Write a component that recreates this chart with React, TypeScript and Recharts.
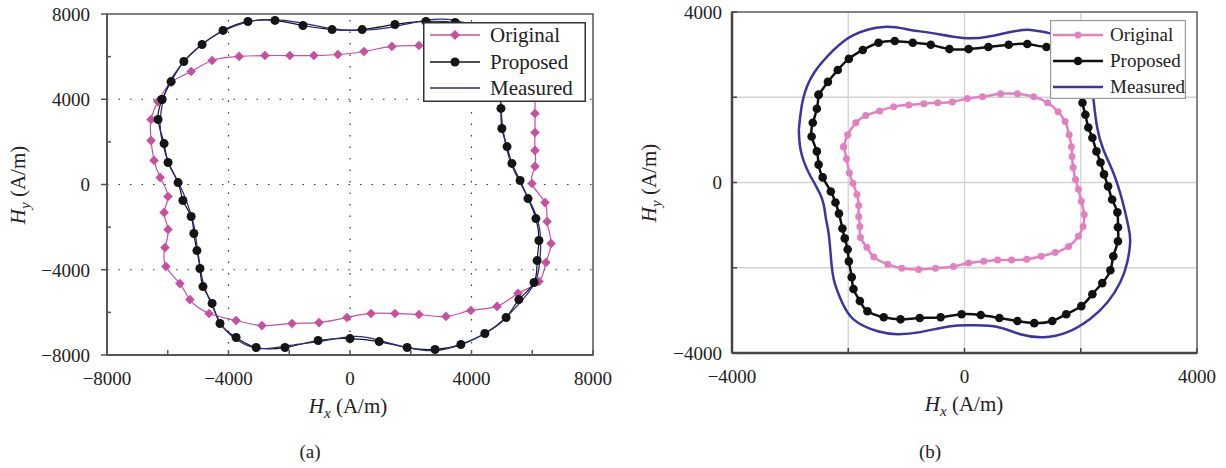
import React from 'react';
import { LineChart, Line, XAxis, YAxis, CartesianGrid, ReferenceArea, ReferenceLine, Legend, Label } from 'recharts';

const FONT = '"Liberation Serif", "DejaVu Serif", serif';

// ---------- Panel (a) data: [Hx, Hy] in A/m ----------
const aTicks = [-8000, -6000, -4000, -2000, 0, 2000, 4000, 6000, 8000];
const aGridValues = [-4000, 0, 4000];

const aOriginal: number[][] = [
  [-6320, 3890], [-5890, 4790], [-5230, 5300], [-4540, 5820], [-3650, 6010], [-2800, 6050],
  [-1980, 6050], [-1190, 6050], [-400, 6100], [460, 6240], [1380, 6480], [2270, 6520],
  [3290, 6570], [4280, 6570], [5270, 6430], [5860, 5820], [6060, 4880], [6090, 4080],
  [6090, 3330], [6090, 2440], [6090, 1600], [6090, 850], [5990, 50], [6420, -850],
  [6490, -1740], [6620, -2770], [6450, -3660], [6220, -4550], [5530, -5110], [4840, -5720],
  [3980, -5910], [3160, -6190], [2270, -6100], [1480, -6050], [690, -6050], [-100, -6240],
  [-1020, -6480], [-1910, -6520], [-2900, -6620], [-3750, -6380], [-4640, -6050], [-5270, -5400],
  [-5600, -4650], [-6060, -3850], [-6090, -2960], [-5990, -2110], [-6120, -1310], [-5990, -560],
  [-6250, 330], [-6450, 1130], [-6550, 2060], [-6550, 3050],
];

const aProposed: number[][] = [
  [-6190, 3990], [-5890, 4830], [-5470, 5770], [-4870, 6570], [-4180, 7230], [-3360, 7650],
  [-2470, 7700], [-1550, 7460], [-590, 7270], [400, 7270], [1480, 7510], [2500, 7650],
  [3460, 7600], [4350, 7090], [4840, 5910], [4940, 4690], [4970, 3570], [5000, 2630],
  [5170, 1780], [5330, 990], [5600, 190], [5860, -660], [6120, -1600], [6220, -2630],
  [6160, -3570], [6060, -4600], [5560, -5400], [5140, -6240], [4440, -6990], [3650, -7510],
  [2800, -7740], [1880, -7650], [960, -7370], [0, -7230], [-1050, -7320], [-2140, -7650],
  [-3090, -7650], [-3750, -7180], [-4280, -6520], [-4540, -5580], [-4840, -4790], [-4940, -3940],
  [-5040, -3100], [-5140, -2300], [-5230, -1500], [-5500, -750], [-5660, 90], [-5990, 1030],
  [-6120, 1920], [-6320, 3050],
];

const aMeasured: number[][] = [
  [-6160, 3940], [-5990, 4650], [-5600, 5540], [-5000, 6430], [-4280, 7130], [-3460, 7600],
  [-2630, 7740], [-1650, 7600], [-660, 7320], [330, 7230], [1320, 7370], [2470, 7700],
  [3460, 7700], [4350, 7130], [4810, 5910], [4940, 4410], [4970, 3470], [5070, 2300],
  [5270, 1130], [5600, 90], [5990, -990], [6250, -2160], [6250, -3570], [6090, -4600],
  [5660, -5440], [5100, -6290], [4440, -6990], [3620, -7510], [2800, -7790], [1880, -7650],
  [990, -7320], [170, -7130], [-820, -7320], [-1980, -7550], [-2960, -7700], [-3690, -7320],
  [-4210, -6620], [-4540, -5680], [-4810, -4740], [-4940, -3800], [-5040, -2860], [-5140, -1920],
  [-5330, -990], [-5600, -50], [-5930, 890], [-6190, 2060], [-6250, 3000],
];

// ---------- Panel (b) data ----------
const bTicks = [-4000, -2000, 0, 2000, 4000];

const bOriginal: number[][] = [
  [-2080, 840], [-2010, 1120], [-1870, 1400], [-1700, 1570], [-1460, 1680], [-1220, 1780],
  [-960, 1820], [-700, 1850], [-460, 1870], [-210, 1890], [50, 1970], [310, 2010],
  [620, 2080], [910, 2080], [1190, 2010], [1430, 1870], [1610, 1660], [1730, 1430],
  [1800, 1120], [1840, 840], [1850, 610], [1870, 350], [1910, 70], [1960, -160],
  [2010, -440], [2060, -750], [2040, -1030], [1960, -1260], [1790, -1500], [1560, -1640],
  [1320, -1730], [1070, -1800], [810, -1820], [570, -1820], [330, -1850], [70, -1890],
  [-190, -1970], [-500, -2010], [-790, -2040], [-1080, -2010], [-1320, -1920], [-1560, -1750],
  [-1680, -1520], [-1790, -1290], [-1800, -1030], [-1820, -800], [-1820, -540], [-1850, -280],
  [-1920, -20], [-1980, 230], [-2030, 560],
];

const bProposed: number[][] = [
  [-2510, 2060], [-2350, 2360], [-2180, 2640], [-1990, 2900], [-1750, 3110], [-1480, 3280],
  [-1200, 3320], [-890, 3280], [-580, 3230], [-260, 3130], [70, 3130], [410, 3180],
  [760, 3230], [1080, 3250], [1410, 3180], [1700, 3160], [1910, 2830], [1990, 2360],
  [2030, 1870], [2080, 1590], [2130, 1290], [2200, 1050], [2270, 730], [2340, 470],
  [2400, 190], [2470, -90], [2540, -400], [2630, -700], [2640, -1050], [2640, -1380],
  [2560, -1730], [2510, -2060], [2370, -2360], [2200, -2620], [2010, -2900], [1750, -3090],
  [1510, -3250], [1200, -3300], [910, -3250], [600, -3180], [280, -3110], [-50, -3090],
  [-410, -3160], [-770, -3180], [-1100, -3210], [-1390, -3160], [-1670, -3020], [-1800, -2780],
  [-1910, -2500], [-1940, -2220], [-1990, -1850], [-2010, -1570], [-2060, -1310], [-2100, -1080],
  [-2160, -730], [-2220, -470], [-2300, -210], [-2440, 120], [-2510, 420], [-2540, 730],
  [-2630, 1080], [-2610, 1400], [-2540, 1730],
];

const bMeasured: number[][] = [
  [-2850, 1240], [-2780, 1940], [-2590, 2570], [-2250, 3110], [-1910, 3460], [-1390, 3650],
  [-930, 3580], [-580, 3510], [-20, 3390], [400, 3420], [790, 3530], [1130, 3580],
  [1440, 3510], [1730, 3390], [1990, 2990], [2160, 2410], [2220, 1940], [2280, 1310],
  [2390, 770], [2560, 230], [2710, -400], [2820, -1030], [2850, -1400], [2800, -1870],
  [2680, -2340], [2460, -2810], [2160, -3200], [1770, -3510], [1360, -3630], [960, -3560],
  [570, -3390], [160, -3350], [-240, -3370], [-760, -3510], [-1150, -3560], [-1490, -3490],
  [-1910, -3210], [-2130, -2740], [-2250, -2270], [-2300, -1730], [-2340, -1170], [-2390, -800],
  [-2460, -350], [-2680, 230], [-2820, 770],
];

const seriesNames = ['Original', 'Proposed', 'Measured'];

// ---------- helpers ----------
const closed = (pts: number[][]) => [...pts, pts[0]].map(([x, y]) => ({ x, y }));
const fmt = (v: number) => (v < 0 ? '\u2212' + Math.abs(v) : String(v));

const A_PINK = '#c84f9e';
const A_BLACK = '#151515';
const A_BLUE = '#2c2a88';
const B_PINK = '#e380c0';
const B_BLACK = '#111111';
const B_BLUE = '#3b35a3';
const TXT = '#222';

const diamondDot = (color: string, r: number) => (props: any) => {
  const { cx, cy, index } = props;
  if (cx == null || cy == null) return <g key={`dd${index}`} />;
  return (
    <path
      key={`dd${index}`}
      d={`M${cx},${cy - r}L${cx + r},${cy}L${cx},${cy + r}L${cx - r},${cy}Z`}
      fill={color}
    />
  );
};

const circleDot = (color: string, r: number) => (props: any) => {
  const { cx, cy, index } = props;
  if (cx == null || cy == null) return <g key={`cd${index}`} />;
  return <circle key={`cd${index}`} cx={cx} cy={cy} r={r} fill={color} />;
};

// custom ticks: x/y props are the axis-line position (tickSize = tickMargin = 0)
const makeYTick = (opts: { outMajor: boolean; inLen: number; outLen: number; gap: number; color: string }) =>
  (props: any) => {
    const { x, y, payload } = props;
    const v = payload.value as number;
    const major = v % 4000 === 0;
    return (
      <g>
        {major && opts.outMajor ? (
          <line x1={x - opts.outLen} x2={x} y1={y} y2={y} stroke={opts.color} strokeWidth={1.5} />
        ) : (
          <line x1={x} x2={x + opts.inLen} y1={y} y2={y} stroke={opts.color} strokeWidth={1.5} />
        )}
        {major && (
          <text x={x - opts.gap} y={y} dy="0.36em" textAnchor="end" fontSize={19} fontFamily={FONT} fill={TXT}>
            {fmt(v)}
          </text>
        )}
      </g>
    );
  };

const makeXTick = (opts: { inLen: number; gap: number; color: string }) => (props: any) => {
  const { x, y, payload } = props;
  const v = payload.value as number;
  const major = v % 4000 === 0;
  return (
    <g>
      <line x1={x} x2={x} y1={y} y2={y - opts.inLen} stroke={opts.color} strokeWidth={1.5} />
      {major && (
        <text x={x} y={y + opts.gap} dy="0.71em" textAnchor="middle" fontSize={19} fontFamily={FONT} fill={TXT}>
          {fmt(v)}
        </text>
      )}
    </g>
  );
};

type LegendItem = { name: string; color: string; sw: number; marker: 'diamond' | 'circle' | 'none'; r: number };
type LegendCfg = { w: number; h: number; rows: number[]; x1: number; x2: number; tx: number; fs: number; border: string; bw: number };

const makeLegend = (items: LegendItem[], c: LegendCfg) => () => (
  <svg width={c.w} height={c.h} style={{ display: 'block' }}>
    <rect x={c.bw / 2} y={c.bw / 2} width={c.w - c.bw} height={c.h - c.bw} fill="#fff" stroke={c.border} strokeWidth={c.bw} />
    {items.map((it, i) => {
      const y = c.rows[i];
      const mx = (c.x1 + c.x2) / 2;
      return (
        <g key={it.name}>
          <line x1={c.x1} x2={c.x2} y1={y} y2={y} stroke={it.color} strokeWidth={it.sw} />
          {it.marker === 'diamond' && (
            <path d={`M${mx},${y - it.r}L${mx + it.r},${y}L${mx},${y + it.r}L${mx - it.r},${y}Z`} fill={it.color} />
          )}
          {it.marker === 'circle' && <circle cx={mx} cy={y} r={it.r} fill={it.color} />}
          <text x={c.tx} y={y} dy="0.33em" fontSize={c.fs} fontFamily={FONT} fill={TXT}>
            {it.name}
          </text>
        </g>
      );
    })}
  </svg>
);

const axisTitle = (cx: number, baseline: number, sub: string, fs: number) => (
  <text x={cx} y={baseline} textAnchor="middle" fontFamily={FONT} fontSize={fs} fill={TXT}>
    <tspan fontStyle="italic">H</tspan>
    <tspan fontStyle="italic" fontSize={fs * 0.72} dy={fs * 0.25}>{sub}</tspan>
    <tspan dy={-fs * 0.25}>{' (A/m)'}</tspan>
  </text>
);

const xTitleContent = (cx: number, baseline: number, panel: string, px: number, py: number) => () => (
  <g>
    {axisTitle(cx, baseline, 'x', 21)}
    <text x={px} y={py} textAnchor="middle" fontFamily={FONT} fontSize={19} fill={TXT}>{panel}</text>
  </g>
);

const yTitleContent = (bx: number, cy: number) => () => (
  <g transform={`rotate(-90, ${bx}, ${cy})`}>{axisTitle(bx, cy, 'y', 21)}</g>
);

export default function App() {
  const aOrig = closed(aOriginal);
  const aProp = closed(aProposed);
  const aMeas = closed(aMeasured);
  const bOrig = closed(bOriginal);
  const bProp = closed(bProposed);
  const bMeas = closed(bMeasured);

  const legendA = makeLegend(
    [
      { name: seriesNames[0], color: A_PINK, sw: 1.5, marker: 'diamond', r: 5 },
      { name: seriesNames[1], color: A_BLACK, sw: 1.5, marker: 'circle', r: 4.5 },
      { name: seriesNames[2], color: A_BLUE, sw: 1.3, marker: 'none', r: 0 },
    ],
    { w: 163, h: 80, rows: [13, 40, 66], x1: 7, x2: 57, tx: 67, fs: 21, border: '#333', bw: 1.5 }
  );
  const legendB = makeLegend(
    [
      { name: seriesNames[0], color: B_PINK, sw: 2.5, marker: 'circle', r: 3.5 },
      { name: seriesNames[1], color: B_BLACK, sw: 2.5, marker: 'circle', r: 4.3 },
      { name: seriesNames[2], color: B_BLUE, sw: 2.5, marker: 'none', r: 0 },
    ],
    { w: 136, h: 79, rows: [15, 41, 67], x1: 3, x2: 53, tx: 60, fs: 19, border: '#999', bw: 1.2 }
  );

  return (
    <div style={{ position: 'absolute', left: 0, top: 0, width: 1226, height: 468, background: '#fff' }}>
      {/* Panel (a) */}
      <div style={{ position: 'absolute', left: 0, top: 0 }}>
        <LineChart width={613} height={468} margin={{ top: 14, right: 20, bottom: 83, left: 47 }}>
          {aGridValues.map((v) => (
            <ReferenceLine key={`gx${v}`} x={v} stroke="#333" strokeDasharray="1.5 10" strokeWidth={1.2} />
          ))}
          {aGridValues.map((v) => (
            <ReferenceLine key={`gy${v}`} y={v} stroke="#333" strokeDasharray="1.5 10" strokeWidth={1.2} />
          ))}
          <XAxis
            type="number"
            dataKey="x"
            domain={[-8000, 8000]}
            ticks={aTicks}
            interval={0}
            allowDataOverflow
            height={30}
            tickSize={0}
            tickMargin={0}
            axisLine={{ stroke: '#555', strokeWidth: 2 }}
            tickLine={false}
            tick={makeXTick({ inLen: 5, gap: 17, color: '#555' })}
          >
            <Label content={xTitleContent(348, 413, '(a)', 310, 458)} />
          </XAxis>
          <YAxis
            type="number"
            dataKey="y"
            domain={[-8000, 8000]}
            ticks={aTicks}
            interval={0}
            allowDataOverflow
            width={60}
            tickSize={0}
            tickMargin={0}
            axisLine={{ stroke: '#555', strokeWidth: 2 }}
            tickLine={false}
            tick={makeYTick({ outMajor: true, inLen: 4, outLen: 6, gap: 17, color: '#555' })}
          >
            <Label content={yTitleContent(25, 185)} />
          </YAxis>
          <ReferenceArea x1={-8000} x2={8000} y1={-8000} y2={8000} fill="none" stroke="#555" strokeWidth={1.5} />
          <Line data={aOrig} dataKey="y" name={seriesNames[0]} type="natural" stroke={A_PINK} strokeWidth={1.2} dot={diamondDot(A_PINK, 4.8)} activeDot={false} isAnimationActive={false} />
          <Line data={aProp} dataKey="y" name={seriesNames[1]} type="natural" stroke={A_BLACK} strokeWidth={1.2} dot={circleDot(A_BLACK, 4.5)} activeDot={false} isAnimationActive={false} />
          <Line data={aMeas} dataKey="y" name={seriesNames[2]} type="natural" stroke={A_BLUE} strokeWidth={1.3} dot={false} activeDot={false} isAnimationActive={false} />
          <Legend
            layout="vertical"
            align="center"
            verticalAlign="middle"
            content={legendA}
            wrapperStyle={{ position: 'absolute', left: 423, top: 22, width: 163, height: 80, margin: 0, padding: 0 }}
          />
        </LineChart>
      </div>

      {/* Panel (b) */}
      <div style={{ position: 'absolute', left: 613, top: 0 }}>
        <LineChart width={613} height={468} margin={{ top: 12, right: 29, bottom: 85, left: 59 }}>
          <CartesianGrid stroke="#d2d2d2" strokeWidth={1.3} />
          <XAxis
            type="number"
            dataKey="x"
            domain={[-4000, 4000]}
            ticks={bTicks}
            interval={0}
            allowDataOverflow
            height={30}
            tickSize={0}
            tickMargin={0}
            axisLine={{ stroke: '#444', strokeWidth: 2.5 }}
            tickLine={false}
            tick={makeXTick({ inLen: 5, gap: 17, color: '#444' })}
          >
            <Label content={xTitleContent(351, 411, '(b)', 317, 458)} />
          </XAxis>
          <YAxis
            type="number"
            dataKey="y"
            domain={[-4000, 4000]}
            ticks={bTicks}
            interval={0}
            allowDataOverflow
            width={60}
            tickSize={0}
            tickMargin={0}
            axisLine={{ stroke: '#444', strokeWidth: 2.5 }}
            tickLine={false}
            tick={makeYTick({ outMajor: false, inLen: 5, outLen: 0, gap: 10, color: '#444' })}
          >
            <Label content={yTitleContent(43, 183)} />
          </YAxis>
          <ReferenceArea x1={-4000} x2={4000} y1={-4000} y2={4000} fill="none" stroke="#666" strokeWidth={1.5} />
          <Line data={bMeas} dataKey="y" name={seriesNames[2]} type="natural" stroke={B_BLUE} strokeWidth={2.5} dot={false} activeDot={false} isAnimationActive={false} />
          <Line data={bProp} dataKey="y" name={seriesNames[1]} type="natural" stroke={B_BLACK} strokeWidth={2.5} dot={circleDot(B_BLACK, 4.3)} activeDot={false} isAnimationActive={false} />
          <Line data={bOrig} dataKey="y" name={seriesNames[0]} type="natural" stroke={B_PINK} strokeWidth={2.5} dot={circleDot(B_PINK, 3.5)} activeDot={false} isAnimationActive={false} />
          <Legend
            layout="vertical"
            align="center"
            verticalAlign="middle"
            content={legendB}
            wrapperStyle={{ position: 'absolute', left: 437, top: 20, width: 136, height: 79, margin: 0, padding: 0 }}
          />
        </LineChart>
      </div>
    </div>
  );
}
